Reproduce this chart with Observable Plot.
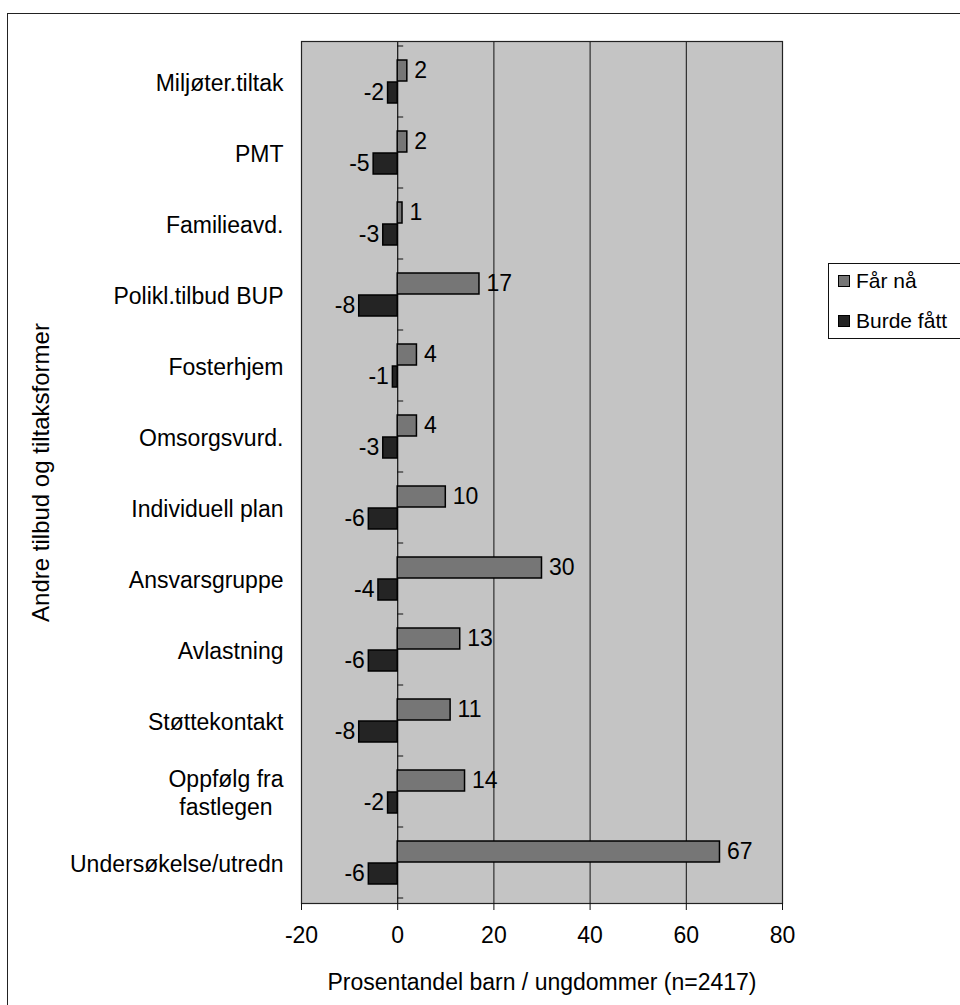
<!DOCTYPE html>
<html>
<head>
<meta charset="utf-8">
<script src="https://cdn.jsdelivr.net/npm/d3@7"></script>
<script src="https://cdn.jsdelivr.net/npm/@observablehq/plot@0.6"></script>
<style>
  html, body { margin: 0; padding: 0; background: #fff; }
  #wrap { position: relative; width: 960px; height: 1005px; overflow: hidden; background: #fff;
          font-family: "Liberation Sans", Arial, sans-serif; color: #000; }
  #border { position: absolute; left: 7px; top: 13px; width: 1200px; height: 1200px;
            border-left: 1.5px solid #222; border-top: 1.5px solid #222; pointer-events: none; }
  #chart { position: absolute; left: 0; top: 0; }
  #legend { position: absolute; left: 828px; top: 263px; width: 160px; height: 74px;
            border: 1px solid #111; background: #fff; font-size: 21px; }
  #legend .item { position: absolute; left: 9px; display: flex; align-items: center; white-space: nowrap; }
  #legend .sw { width: 12px; height: 12px; border: 1px solid #000; margin-right: 6px; box-sizing: border-box; }
</style>
</head>
<body>
<div id="wrap">
  <div id="chart"></div>
  <div id="border"></div>
  <div id="legend"></div>
</div>
<script>
// Tilbud og tiltak, listed top to bottom
const categories = [
  "Miljøter.tiltak",
  "PMT",
  "Familieavd.",
  "Polikl.tilbud BUP",
  "Fosterhjem",
  "Omsorgsvurd.",
  "Individuell plan",
  "Ansvarsgruppe",
  "Avlastning",
  "Støttekontakt",
  "Oppfølg fra\nfastlegen",
  "Undersøkelse/utredn"
];
const series = ["Får nå", "Burde fått"];
const farNa = [2, 2, 1, 17, 4, 4, 10, 30, 13, 11, 14, 67];
const burdeFatt = [-2, -5, -3, -8, -1, -3, -6, -4, -6, -8, -2, -6];
const xTicks = [-20, 0, 20, 40, 60, 80];
const gridValues = [20, 40, 60];
const xTitle = "Prosentandel barn / ungdommer (n=2417)";
const yTitle = "Andre tilbud og tiltaksformer";
const colors = {"Får nå": "#767676", "Burde fått": "#242424"};

const rowsNa = categories.map((c, i) => ({category: c, series: series[0], value: farNa[i]}));
const rowsBf = categories.map((c, i) => ({category: c, series: series[1], value: burdeFatt[i]}));

const font = "'Liberation Sans', Arial, sans-serif";

// small category tick marks along the zero line, at band boundaries
const categoryTicks = (index, scales) => {
  const {x, y} = scales;
  const step = y(categories[1]) - y(categories[0]);
  const x0 = x(0);
  const g = d3.create("svg:g").attr("stroke", "#111").attr("stroke-width", 1);
  const bounds = categories.map(c => y(c)).concat([y(categories[categories.length - 1]) + step]);
  for (const b of bounds) {
    g.append("line").attr("x1", x0).attr("x2", x0 + 6).attr("y1", b).attr("y2", b);
  }
  return g.node();
};

const plot = Plot.plot({
  width: 960,
  height: 1005,
  marginLeft: 301,
  marginRight: 178,
  marginTop: 41,
  marginBottom: 102,
  style: {background: "transparent", fontFamily: font, color: "#000"},
  x: {domain: [-20, 80]},
  y: {domain: categories, padding: 0},
  marks: [
    Plot.frame({fill: "#c4c4c4", stroke: null}),
    Plot.ruleX(gridValues, {stroke: "#111", strokeWidth: 1}),
    Plot.ruleX([0], {stroke: "#111", strokeWidth: 1.2}),
    Plot.frame({stroke: "#222", strokeWidth: 1.2}),
    categoryTicks,
    Plot.barX(rowsNa, {
      y: "category", x1: 0, x2: "value",
      fill: colors["Får nå"], stroke: "#000", strokeWidth: 1.5,
      insetTop: 14, insetBottom: 36
    }),
    Plot.barX(rowsBf, {
      y: "category", x1: 0, x2: "value",
      fill: colors["Burde fått"], stroke: "#000", strokeWidth: 1.5,
      insetTop: 36, insetBottom: 14
    }),
    Plot.text(rowsNa, {
      y: "category", x: "value", text: d => String(d.value),
      dy: -11, dx: 7, textAnchor: "start", fontSize: 23, fill: "#000"
    }),
    Plot.text(rowsBf, {
      y: "category", x: "value", text: d => String(d.value),
      dy: 11, dx: -4, textAnchor: "end", fontSize: 23, fill: "#000"
    }),
    Plot.axisX({
      ticks: xTicks, tickFormat: d => String(d), tickSize: 7, tickPadding: 16,
      fontSize: 23, label: null, stroke: "#111"
    }),
    Plot.axisY({
      tickSize: 0, tickPadding: 18, fontSize: 23, lineHeight: 1.2, label: null
    }),
    // axis titles
    Plot.text([xTitle], {
      frameAnchor: "bottom", dy: 79, textAnchor: "middle", lineAnchor: "middle",
      fontSize: 23, fill: "#000"
    }),
    Plot.text([yTitle], {
      frameAnchor: "left", dx: -260, rotate: -90, textAnchor: "middle", lineAnchor: "middle",
      fontSize: 24, fill: "#000"
    })
  ]
});
document.getElementById("chart").appendChild(plot);

// center the lines of multi-line category labels on each other
d3.select(plot).selectAll("text").each(function () {
  const spans = Array.from(this.querySelectorAll("tspan"));
  if (spans.length < 2) return;
  const widths = spans.map(s => s.getComputedTextLength());
  const W = Math.max(...widths);
  const base = +(spans[0].getAttribute("x") || 0);
  this.setAttribute("text-anchor", "middle");
  spans.forEach(s => s.setAttribute("x", base - W / 2));
});

// legend
const legend = d3.select("#legend");
series.forEach((s, i) => {
  const item = legend.append("div").attr("class", "item").style("top", (i === 0 ? 5 : 45) + "px");
  item.append("div").attr("class", "sw").style("background", colors[s]);
  item.append("span").text(s);
});
</script>
</body>
</html>
